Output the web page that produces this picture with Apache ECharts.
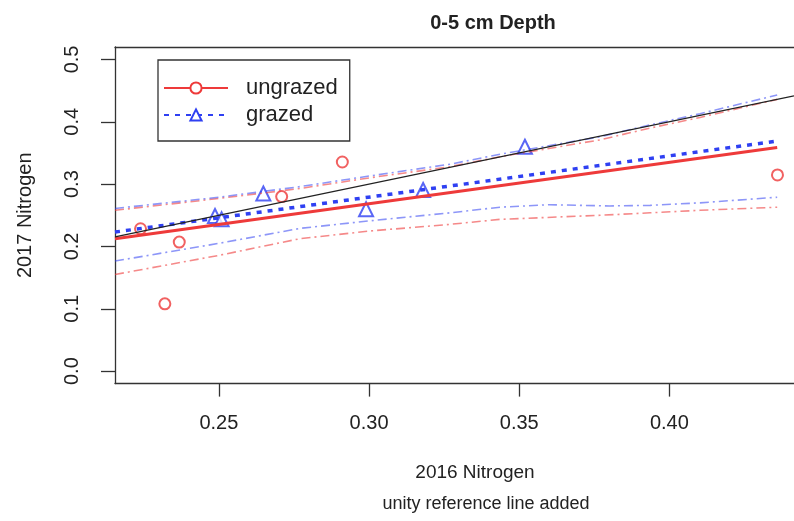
<!DOCTYPE html>
<html><head><meta charset="utf-8">
<script src="https://cdn.jsdelivr.net/npm/echarts@6/dist/echarts.min.js"></script>
<style>html,body{margin:0;padding:0;background:#fff}#c{width:794px;height:521px}</style>
</head><body><div id="c"></div>
<script>
// ---- data ----
var ungrazedX = [0.2239, 0.2320, 0.2368, 0.2709, 0.2911, 0.4360];
var ungrazedY = [0.2284, 0.1080, 0.2070, 0.2800, 0.3355, 0.3147];
var grazedX = [0.2487, 0.2509, 0.2648, 0.2990, 0.3180, 0.3519];
var grazedY = [0.2488, 0.2435, 0.2850, 0.2596, 0.2906, 0.3600];
var fitX = [0.2154, 0.4359];
var ungrazedFitY = [0.2125, 0.3586];
var grazedFitY = [0.2231, 0.3692];
var unityX = [0.2154, 0.4415];
var bandX = [0.2154, 0.2500, 0.2770, 0.3000, 0.3270, 0.3436, 0.3769, 0.3936, 0.4102, 0.4359];
var grazedUpper = [0.261, 0.279, 0.296, 0.313, 0.332, 0.348, 0.376, 0.395, 0.413, 0.443];
var ungrazedUpper = [0.258, 0.277, 0.293, 0.310, 0.328, 0.344, 0.371, 0.390, 0.407, 0.436];
var grazedLowerX = [0.2154, 0.2500, 0.2770, 0.3000, 0.3270, 0.3436, 0.3600, 0.3800, 0.3936, 0.4102, 0.4359];
var grazedLower = [0.1766, 0.205, 0.229, 0.241, 0.254, 0.263, 0.267, 0.265, 0.266, 0.270, 0.279];
var ungrazedLower = [0.155, 0.1857, 0.2125, 0.2247, 0.2355, 0.2435, 0.250, 0.254, 0.258, 0.263];
var xTicks = [0.25, 0.30, 0.35, 0.40];
var yTicks = [0.0, 0.1, 0.2, 0.3, 0.4, 0.5];
var seriesNames = ['ungrazed', 'grazed'];
var titleText = '0-5 cm Depth';
var xTitle1 = '2016 Nitrogen';
var xTitle2 = 'unity reference line added';
var yTitle = '2017 Nitrogen';

function pairs(xs, ys) { return xs.map(function (x, i) { return [x, ys[i]]; }); }

var RED = '#ee3a3a', BLUE = '#2f40f2';
var FONT = 'Liberation Sans, Arial, sans-serif';
var TXT = '#222';

var chart = echarts.init(document.getElementById('c'), null, {renderer: 'canvas'});
chart.setOption({
  animation: false,
  backgroundColor: '#fff',
  textStyle: {fontFamily: FONT},
  title: [
    {text: titleText, left: 488, top: 8, textAlign: 'center',
     textStyle: {fontFamily: FONT, fontSize: 20, fontWeight: 'bold', color: TXT}},
    {text: xTitle1, left: 470, top: 458, textAlign: 'center',
     textStyle: {fontFamily: FONT, fontSize: 19, fontWeight: 'normal', color: TXT}},
    {text: xTitle2, left: 481, top: 490, textAlign: 'center',
     textStyle: {fontFamily: FONT, fontSize: 18, fontWeight: 'normal', color: TXT}}
  ],
  grid: {left: 115, right: 0, top: 47, bottom: 137.4, containLabel: false},
  xAxis: [{
    type: 'value', min: 0.2154, max: 0.4415, position: 'bottom',
    splitLine: {show: false},
    axisLine: {show: true, onZero: false, lineStyle: {color: '#333', width: 1.3}},
    axisTick: {show: true, length: 13, inside: false, customValues: xTicks, lineStyle: {color: '#333', width: 1.3}},
    axisLabel: {show: true, margin: 30, fontSize: 20, color: TXT, fontFamily: FONT, customValues: xTicks,
      formatter: function (v) { return v.toFixed(2); }}
  }, {
    type: 'value', min: 0.2154, max: 0.4415, position: 'top',
    splitLine: {show: false},
    axisLine: {show: true, onZero: false, lineStyle: {color: '#333', width: 1.3}},
    axisTick: {show: false}, axisLabel: {show: false}
  }],
  yAxis: {
    type: 'value', min: -0.02, max: 0.52,
    name: yTitle, nameLocation: 'middle', nameRotate: 90, nameGap: 80,
    nameTextStyle: {fontSize: 20, color: TXT, fontFamily: FONT},
    splitLine: {show: false},
    axisLine: {show: true, onZero: false, lineStyle: {color: '#333', width: 1.3}},
    axisTick: {show: true, length: 14, customValues: yTicks, lineStyle: {color: '#333', width: 1.3}},
    axisLabel: {show: true, rotate: 90, margin: 33, fontSize: 20, color: TXT, fontFamily: FONT, customValues: yTicks,
      formatter: function (v) { return v.toFixed(1); }}
  },
  legend: {
    data: seriesNames, orient: 'vertical', left: 158, top: 60,
    padding: [17, 12, 15, 5], itemGap: 5, itemWidth: 64, itemHeight: 14,
    borderColor: '#333', borderWidth: 1.3, backgroundColor: '#fff',
    textStyle: {fontSize: 22, color: TXT, fontFamily: FONT, padding: [0, 0, 0, 13]}
  },
  series: [
    {name: 'ungrazed pts', type: 'scatter', data: pairs(ungrazedX, ungrazedY), symbol: 'emptyCircle', symbolSize: 11,
     itemStyle: {color: RED, borderColor: RED, borderWidth: 1.6}, z: 3},
    {name: 'grazed pts', type: 'scatter', data: pairs(grazedX, grazedY), symbol: 'emptyTriangle', symbolSize: 14,
     itemStyle: {color: BLUE, borderColor: BLUE, borderWidth: 1.6}, z: 3},
    {name: 'ungrazed', type: 'line', data: pairs(fitX, ungrazedFitY), symbol: 'emptyCircle', symbolSize: 11, showSymbol: false,
     itemStyle: {color: RED, borderColor: RED, borderWidth: 1.6},
     lineStyle: {color: RED, width: 3}, z: 4},
    {name: 'grazed', type: 'line', data: pairs(fitX, grazedFitY), symbol: 'emptyTriangle', symbolSize: 14, showSymbol: false,
     itemStyle: {color: BLUE, borderColor: BLUE, borderWidth: 1.6},
     lineStyle: {color: BLUE, width: 3.5, type: [5, 6]}, z: 5},
    {name: 'ungrazed upper', type: 'line', data: pairs(bandX, ungrazedUpper), showSymbol: false, symbol: 'none',
     lineStyle: {color: 'rgba(238,58,58,0.6)', width: 1.6, type: [9, 4, 2, 4]}, z: 6},
    {name: 'ungrazed lower', type: 'line', data: pairs(bandX, ungrazedLower), showSymbol: false, symbol: 'none',
     lineStyle: {color: 'rgba(238,58,58,0.6)', width: 1.6, type: [9, 4, 2, 4]}, z: 6},
    {name: 'grazed upper', type: 'line', data: pairs(bandX, grazedUpper), showSymbol: false, symbol: 'none',
     lineStyle: {color: 'rgba(47,64,242,0.55)', width: 1.6, type: [9, 4, 2, 4]}, z: 7},
    {name: 'grazed lower', type: 'line', data: pairs(grazedLowerX, grazedLower), showSymbol: false, symbol: 'none',
     lineStyle: {color: 'rgba(47,64,242,0.55)', width: 1.6, type: [9, 4, 2, 4]}, z: 7},
    {name: 'unity', type: 'line', data: pairs(unityX, unityX), showSymbol: false, symbol: 'none',
     lineStyle: {color: '#222', width: 1.3}, z: 8}
  ]
});
</script>
</body></html>
